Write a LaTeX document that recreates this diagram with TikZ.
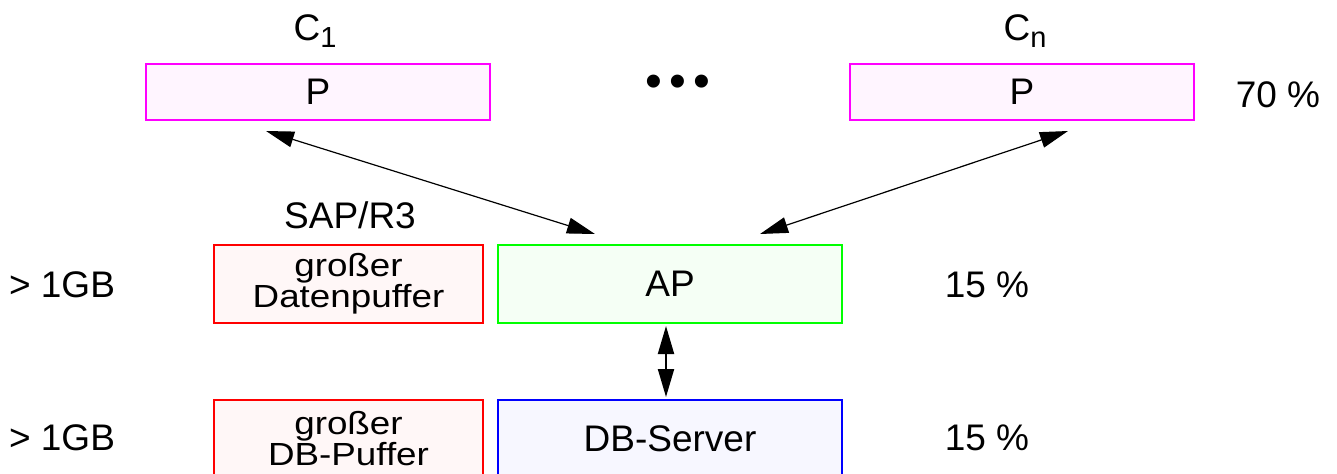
\documentclass[tikz,border=0pt]{standalone}
\usepackage{fontspec}
\setmainfont{Liberation Sans}
\newfontfamily\widefont{Liberation Sans}[FakeStretch=1.15]
\usetikzlibrary{arrows.meta,positioning}

\definecolor{clientline}{RGB}{255,0,255}
\definecolor{bufline}{RGB}{255,0,0}
\definecolor{apline}{RGB}{0,255,0}
\definecolor{dbline}{RGB}{0,0,255}

% index lowered below the letter
\newcommand{\idx}[1]{\raisebox{-3.5pt}{\fontsize{14.5}{15}\selectfont #1}}

\begin{document}
\begin{tikzpicture}[x=0.5pt, y=-0.5pt,
  font=\fontsize{18.5}{22}\selectfont,
  box/.style={draw, line width=1pt, inner sep=0pt, align=center},
  client/.style={box, draw=clientline, fill=clientline!4, minimum width=172pt, minimum height=28pt},
  buffer/.style={box, draw=bufline, fill=bufline!3, minimum width=134.5pt, minimum height=39pt,
                 font=\widefont\fontsize{16}{15.5}\selectfont},
  appsrv/.style={box, draw=apline, fill=apline!4, minimum width=172pt, minimum height=39pt},
  dbsrv/.style={box, draw=dbline, fill=dbline!3, minimum width=172pt, minimum height=39pt},
  lbl/.style={anchor=base, inner sep=0pt},
  arr/.style={{Triangle[length=14pt,width=8pt]}-{Triangle[length=14pt,width=8pt]}, line width=0.6pt}
]
  \useasboundingbox (0,0) rectangle (1337,473);
  \clip (0,0) rectangle (1337,473);
  % clients
  \node[client] (p1) at (318,92) {P};
  \node[client] (pn) at (1022,92) {P};
  \node[lbl] (c1) at (315,40) {C\idx{1}};
  \node[lbl] (cn) at (1025,40) {C\idx{n}};
  \node[font=\fontsize{24}{24}\selectfont, inner sep=0pt] (dots) at (678,86) {•\hspace{3.6pt}•\hspace{3.6pt}•};
  \node[lbl] (share1) at (1278,107) {70 \%};
  % application server
  \node[appsrv] (ap) at (670,284) {AP};
  \node[buffer, left=6.5pt of ap] (buf1) {großer\\Datenpuffer};
  \node[lbl] (sap) at (350,228) {SAP/R3};
  \node[lbl] (mem1) at (62,297) {> 1GB};
  \node[lbl] (share2) at (987,297) {15 \%};
  % database server
  \node[dbsrv, below=37.5pt of ap] (db) {DB-Server};
  \node[buffer, left=6.5pt of db] (buf2) {großer\\DB-Puffer};
  \node[lbl] (mem2) at (62,450) {> 1GB};
  \node[lbl] (share3) at (987,450) {15 \%};
  % connections
  \draw[arr] ([shift={(-26pt,-5pt)}]p1.south) -- ([shift={(-37.5pt,5pt)}]ap.north);
  \draw[arr] ([shift={(23pt,-5pt)}]pn.south) -- ([shift={(45pt,5pt)}]ap.north);
  \draw[arr, line width=1pt] ([shift={(-2pt,-1pt)}]ap.south) -- ([shift={(-2pt,1pt)}]db.north);
\end{tikzpicture}
\end{document}
